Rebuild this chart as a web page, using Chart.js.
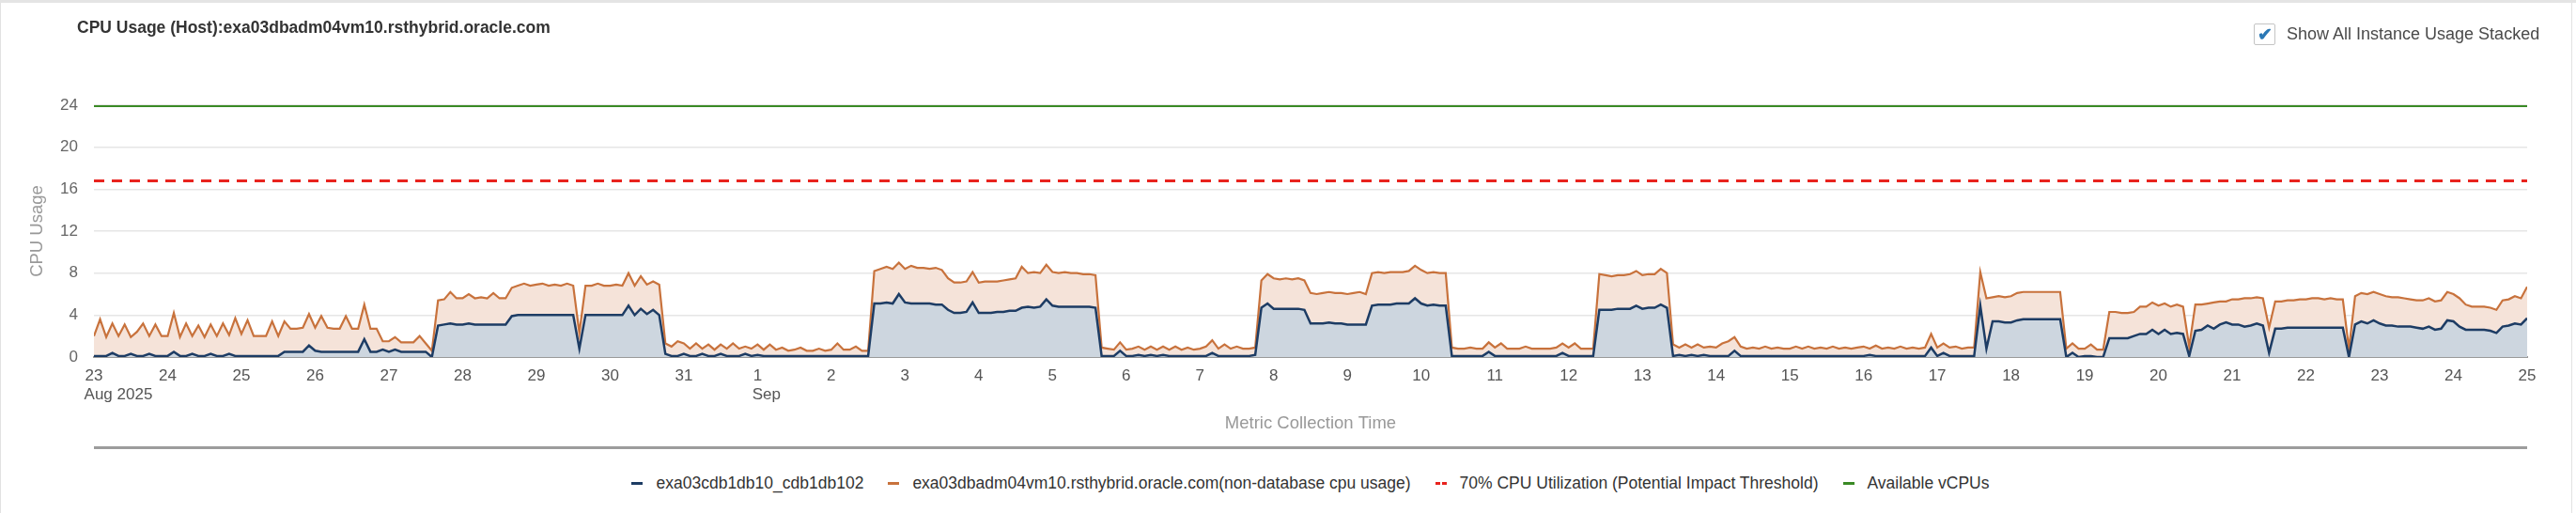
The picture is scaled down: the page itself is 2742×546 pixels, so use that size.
<!DOCTYPE html>
<html>
<head>
<meta charset="utf-8">
<script src="https://cdn.jsdelivr.net/npm/chart.js@4.4.1/dist/chart.umd.min.js"></script>
<style>
  body { margin: 0; background: #fff; font-family: 'Liberation Sans', Arial, sans-serif; }
  #page { position: relative; width: 2742px; height: 546px; overflow: hidden; }
  #topbar { position: absolute; left: 0; top: 0; width: 2742px; height: 3px; background: #e4e4e4; }
  #frame { position: absolute; left: 0; top: 3px; width: 2736px; height: 543px; border-left: 1px solid #e2e2e2; border-right: 1px solid #e2e2e2; }
  #title { position: absolute; left: 82px; top: 19px; font-size: 17.5px; font-weight: bold; color: #333; white-space: nowrap; }
  #stacked { position: absolute; left: 2399px; top: 25px; white-space: nowrap; font-size: 18px; color: #4a4a4a; }
  #stacked .box { display: inline-block; width: 21px; height: 21px; border: 1px solid #c4c4c4; border-radius: 2px; vertical-align: middle; text-align: center; line-height: 22px; color: #2a78b5; font-size: 19px; font-weight: bold; margin-right: 12px; }
  #stacked span.lbl { vertical-align: middle; }
  #chartWrap { position: absolute; left: 0; top: 0; width: 2742px; height: 470px; }
  #separator { position: absolute; left: 100px; top: 475px; width: 2590px; height: 3px; background: #9c9c9c; }
  #legend { position: absolute; left: 100px; top: 503px; width: 2590px; text-align: center; white-space: nowrap; font-size: 17.5px; color: #333; }
  #legend .item { display: inline-block; margin: 0 13px; }
  #legend .mark { display: inline-block; width: 12px; height: 3px; vertical-align: middle; margin-right: 14px; }
  #legend .txt { vertical-align: middle; }
</style>
</head>
<body>
<div id="page">
  <div id="topbar"></div>
  <div id="frame"></div>
  <div id="chartWrap"><canvas id="cpuChart" width="2742" height="470"></canvas></div>
  <div id="title">CPU Usage (Host):exa03dbadm04vm10.rsthybrid.oracle.com</div>
  <div id="stacked"><span class="box">&#10004;</span><span class="lbl">Show All Instance Usage Stacked</span></div>
  <div id="separator"></div>
  <div id="legend"></div>
</div>
<script>
// x axis: one tick per day, 23 Aug .. 25 Sep 2025
const dayLabels = ['23','24','25','26','27','28','29','30','31','1','2','3','4','5','6','7','8',
  '9','10','11','12','13','14','15','16','17','18','19','20','21','22','23','24','25'];
const monthTicks = [0, 9];
const monthNames = ['Aug 2025', 'Sep'];

// samples every 2 hours from 23 Aug 00:00
const sampleHours = 2;

// database instance cpu usage
const dbCpu = [
  0.1,0.1,0.1,0.4,0.1,0.1,0.3,0.1,0.1,0.3,0.1,0.1, // Aug 23
  0.1,0.5,0.1,0.1,0.3,0.1,0.1,0.3,0.1,0.1,0.3,0.1, // Aug 24
  0.1,0.1,0.1,0.1,0.1,0.1,0.1,0.5,0.5,0.5,0.5,1.1, // Aug 25
  0.6,0.5,0.5,0.5,0.5,0.5,0.5,0.5,1.7,0.5,0.5,0.7, // Aug 26
  0.5,0.7,0.5,0.5,0.5,0.5,0.5,0.0,3.0,3.1,3.2,3.1, // Aug 27
  3.1,3.2,3.1,3.1,3.1,3.1,3.1,3.1,3.9,4.0,4.0,4.0, // Aug 28
  4.0,4.0,4.0,4.0,4.0,4.0,4.0,0.8,4.0,4.0,4.0,4.0, // Aug 29
  4.0,4.0,4.0,4.9,4.0,4.6,4.1,4.5,4.0,0.3,0.1,0.1, // Aug 30
  0.3,0.1,0.1,0.3,0.1,0.1,0.3,0.1,0.1,0.1,0.3,0.1, // Aug 31
  0.2,0.1,0.1,0.1,0.1,0.1,0.1,0.1,0.1,0.1,0.1,0.1, // Sep 1
  0.1,0.1,0.1,0.1,0.1,0.1,0.1,5.1,5.1,5.2,5.1,6.0, // Sep 2
  5.2,5.1,5.1,5.1,5.1,5.0,5.0,4.5,4.2,4.2,4.3,5.2, // Sep 3
  4.2,4.2,4.2,4.3,4.3,4.4,4.4,4.7,4.8,4.7,4.8,5.5, // Sep 4
  4.9,4.8,4.8,4.8,4.8,4.8,4.8,4.7,0.1,0.1,0.1,0.6, // Sep 5
  0.1,0.1,0.2,0.1,0.2,0.1,0.2,0.1,0.1,0.1,0.1,0.1, // Sep 6
  0.1,0.1,0.4,0.1,0.1,0.1,0.1,0.1,0.1,0.2,4.7,5.1, // Sep 7
  4.6,4.6,4.6,4.6,4.6,4.5,3.2,3.2,3.2,3.3,3.2,3.2, // Sep 8
  3.1,3.1,3.1,3.1,4.9,5.0,5.0,5.0,5.1,5.1,5.1,5.6, // Sep 9
  5.1,4.9,5.0,4.9,4.9,0.1,0.1,0.1,0.1,0.1,0.1,0.5, // Sep 10
  0.1,0.1,0.1,0.1,0.1,0.1,0.1,0.1,0.1,0.1,0.1,0.4, // Sep 11
  0.1,0.1,0.1,0.1,0.1,4.5,4.5,4.5,4.6,4.6,4.6,4.9, // Sep 12
  4.6,4.7,4.7,5.0,4.7,0.1,0.2,0.1,0.2,0.1,0.2,0.1, // Sep 13
  0.1,0.1,0.1,0.6,0.1,0.1,0.1,0.1,0.1,0.1,0.1,0.1, // Sep 14
  0.1,0.1,0.1,0.1,0.1,0.1,0.1,0.1,0.1,0.1,0.1,0.1, // Sep 15
  0.1,0.2,0.1,0.1,0.1,0.1,0.1,0.1,0.1,0.1,0.1,0.9, // Sep 16
  0.1,0.4,0.1,0.1,0.1,0.1,0.1,4.9,0.8,3.4,3.4,3.3, // Sep 17
  3.3,3.5,3.6,3.6,3.6,3.6,3.6,3.6,3.6,0.0,0.4,0.0, // Sep 18
  0.1,0.1,0.0,0.0,1.8,1.8,1.8,1.8,2.0,2.2,2.2,2.6, // Sep 19
  2.2,2.6,2.2,2.3,2.2,0.1,2.5,2.6,3.0,2.7,3.1,3.3, // Sep 20
  3.1,3.1,2.9,3.0,3.2,3.0,0.4,2.7,2.7,2.8,2.8,2.8, // Sep 21
  2.8,2.8,2.8,2.8,2.8,2.8,2.8,0.0,3.1,3.4,3.2,3.5, // Sep 22
  3.2,3.0,3.0,2.9,2.9,2.9,2.8,2.7,2.9,2.6,2.7,3.5, // Sep 23
  3.4,2.9,2.6,2.6,2.6,2.6,2.5,2.3,2.9,3.0,3.2,3.1, // Sep 24
  3.7                                              // Sep 25
];

// stacked total: database + non-database cpu usage of the host
const hostCpu = [
  2.0,3.6,1.9,3.2,2.0,3.1,1.9,2.4,3.2,2.0,3.1,2.0, // Aug 23
  2.0,4.2,1.9,3.2,2.0,3.0,1.9,3.1,2.0,3.2,2.1,3.7, // Aug 24
  2.2,3.5,2.0,2.0,2.0,3.4,2.0,3.4,2.7,2.7,2.8,4.1, // Aug 25
  2.8,3.9,2.8,2.7,2.7,3.9,2.7,2.7,5.0,2.7,2.7,1.5, // Aug 26
  1.5,1.9,1.4,1.4,1.4,2.0,1.3,0.6,5.4,5.5,6.2,5.6, // Aug 27
  5.6,6.0,5.6,5.7,5.6,6.1,5.6,5.6,6.6,6.8,7.0,6.8, // Aug 28
  6.9,7.0,6.8,6.9,6.8,7.0,6.8,2.3,6.8,6.8,7.0,6.8, // Aug 29
  6.8,6.9,6.8,8.0,6.8,7.7,6.9,7.2,6.9,1.3,1.0,1.5, // Aug 30
  1.3,0.8,1.3,0.8,1.2,0.7,1.2,0.8,1.3,0.8,1.0,0.8, // Aug 31
  1.2,0.7,1.2,0.7,0.9,0.6,0.7,0.9,0.6,0.6,0.8,0.6, // Sep 1
  0.7,1.3,0.7,0.7,1.0,0.6,0.6,8.2,8.4,8.6,8.4,9.0, // Sep 2
  8.4,8.7,8.5,8.5,8.4,8.5,8.3,7.5,7.1,7.1,7.2,8.1, // Sep 3
  7.1,7.2,7.2,7.2,7.3,7.4,7.5,8.6,8.0,8.1,8.0,8.8, // Sep 4
  8.1,8.0,8.1,8.0,8.0,7.9,7.9,7.8,0.9,0.8,0.7,1.4, // Sep 5
  0.7,0.8,1.0,0.7,1.0,0.7,1.0,0.7,1.0,0.7,0.9,0.7, // Sep 6
  0.8,1.0,1.6,0.8,1.2,0.8,1.0,0.8,0.8,0.9,7.3,7.9, // Sep 7
  7.5,7.4,7.5,7.4,7.5,7.3,6.1,6.0,6.1,6.2,6.1,6.1, // Sep 8
  6.0,6.1,6.2,6.0,8.0,8.1,8.0,8.1,8.1,8.1,8.2,8.7, // Sep 9
  8.3,8.0,8.1,8.0,8.0,0.9,0.8,0.8,0.9,0.8,0.8,1.4, // Sep 10
  0.9,1.3,0.8,0.8,0.8,1.0,0.8,0.8,0.8,0.8,0.9,1.3, // Sep 11
  0.9,1.3,0.8,0.8,0.8,7.9,7.8,7.7,7.8,7.8,7.9,8.2, // Sep 12
  7.8,7.9,7.9,8.4,8.0,1.2,0.9,1.2,0.9,1.2,0.9,1.0, // Sep 13
  0.9,1.3,1.5,1.9,1.0,0.8,0.9,0.8,1.0,0.8,0.9,0.8, // Sep 14
  0.8,1.0,0.8,1.0,0.8,0.9,0.8,1.0,0.8,0.9,0.8,0.9, // Sep 15
  1.0,0.8,1.1,0.8,0.9,0.8,1.0,0.8,0.9,0.8,0.9,2.2, // Sep 16
  0.9,1.3,0.9,1.0,0.8,0.9,0.9,8.1,5.6,5.7,5.8,5.7, // Sep 17
  5.8,6.1,6.2,6.2,6.2,6.2,6.2,6.2,6.2,0.8,1.3,0.8, // Sep 18
  0.8,1.2,0.7,0.7,4.3,4.3,4.2,4.2,4.3,4.8,4.8,5.2, // Sep 19
  4.9,5.1,4.8,5.0,4.8,1.0,5.0,5.0,5.1,5.2,5.3,5.3, // Sep 20
  5.5,5.5,5.6,5.6,5.7,5.6,2.8,5.3,5.3,5.4,5.4,5.5, // Sep 21
  5.5,5.6,5.6,5.5,5.6,5.5,5.5,0.8,5.8,6.1,6.0,6.2, // Sep 22
  6.0,5.8,5.7,5.7,5.6,5.5,5.4,5.4,5.6,5.3,5.4,6.2, // Sep 23
  6.0,5.6,5.0,4.8,4.8,4.8,4.7,4.5,5.4,5.5,5.8,5.6, // Sep 24
  6.7                                              // Sep 25
];

// reference lines over the whole period (day 0 .. day 33)
const limitDays = [0, 33];
const thresholdCpu = [16.8, 16.8];
const availableVcpus = [24, 24];

const yTicks = [0, 4, 8, 12, 16, 20, 24];

const toPoints = (values) => values.map((v, i) => ({ x: i * sampleHours / 24, y: v }));
const toLine = (values) => values.map((v, i) => ({ x: limitDays[i], y: v }));

const tickFont = "17px 'Liberation Sans', Arial, sans-serif";

// month names sit under the day number, left-aligned with it
const monthLabelPlugin = {
  id: 'monthLabels',
  afterDraw(chart) {
    const { ctx, scales: { x } } = chart;
    ctx.save();
    ctx.font = tickFont;
    ctx.fillStyle = '#555';
    ctx.textAlign = 'left';
    ctx.textBaseline = 'middle';
    monthTicks.forEach((t, i) => {
      const w = ctx.measureText(dayLabels[t]).width;
      ctx.fillText(monthNames[i], x.getPixelForValue(t) - w / 2 - 1, x.top + 40);
    });
    ctx.restore();
  }
};

Chart.defaults.font.family = "'Liberation Sans', Arial, sans-serif";

const chart = new Chart(document.getElementById('cpuChart'), {
  type: 'line',
  data: {
    datasets: [
      {
        label: 'exa03cdb1db10_cdb1db102',
        data: toPoints(dbCpu),
        borderColor: '#1d3c64',
        backgroundColor: '#cdd6df',
        borderWidth: 2.5,
        fill: 'origin'
      },
      {
        label: 'exa03dbadm04vm10.rsthybrid.oracle.com(non-database cpu usage)',
        data: toPoints(hostCpu),
        borderColor: '#c8723c',
        backgroundColor: '#f5e3d9',
        borderWidth: 2.2,
        fill: '-1'
      },
      {
        label: '70% CPU Utilization (Potential Impact Threshold)',
        data: toLine(thresholdCpu),
        borderColor: '#e8231e',
        borderWidth: 3,
        borderDash: [11, 8],
        fill: false
      },
      {
        label: 'Available vCPUs',
        data: toLine(availableVcpus),
        borderColor: '#3a8a25',
        borderWidth: 4,
        fill: false
      }
    ]
  },
  options: {
    responsive: false,
    animation: false,
    layout: { padding: { left: 25, right: 52, top: 112, bottom: 4 } },
    elements: { point: { radius: 0 }, line: { tension: 0 } },
    plugins: {
      legend: { display: false },
      tooltip: { enabled: false }
    },
    scales: {
      x: {
        type: 'linear',
        min: 0,
        max: 33,
        afterFit: (scale) => { scale.height = 86; },
        grid: { display: false, drawTicks: false },
        border: { display: true, color: '#9a9a9a', width: 2 },
        ticks: {
          stepSize: 1,
          autoSkip: false,
          maxRotation: 0,
          padding: 10,
          color: '#555',
          font: { size: 17 },
          callback: (value) => dayLabels[Math.round(value)]
        },
        title: {
          display: true,
          text: 'Metric Collection Time',
          color: '#999',
          font: { size: 18.5 }
        }
      },
      y: {
        min: 0,
        max: 24,
        afterFit: (scale) => { scale.width = 75; },
        afterBuildTicks: (scale) => { scale.ticks = yTicks.map(v => ({ value: v })); },
        grid: { color: '#e6e6e6', lineWidth: 1.5, drawTicks: false },
        border: { display: false },
        ticks: { padding: 17, color: '#666', font: { size: 17 } },
        title: {
          display: true,
          text: 'CPU Usage',
          color: '#999',
          font: { size: 18.5 }
        }
      }
    }
  },
  plugins: [monthLabelPlugin]
});

// legend below the separator, built from the chart datasets
const legendEl = document.getElementById('legend');
legendEl.innerHTML = chart.data.datasets.map(ds => {
  const mark = ds.borderDash
    ? `background: repeating-linear-gradient(90deg, ${ds.borderColor} 0 5px, transparent 5px 7px);`
    : `background: ${ds.borderColor};`;
  return `<span class="item"><span class="mark" style="${mark}"></span><span class="txt">${ds.label}</span></span>`;
}).join('');
</script>
</body>
</html>
